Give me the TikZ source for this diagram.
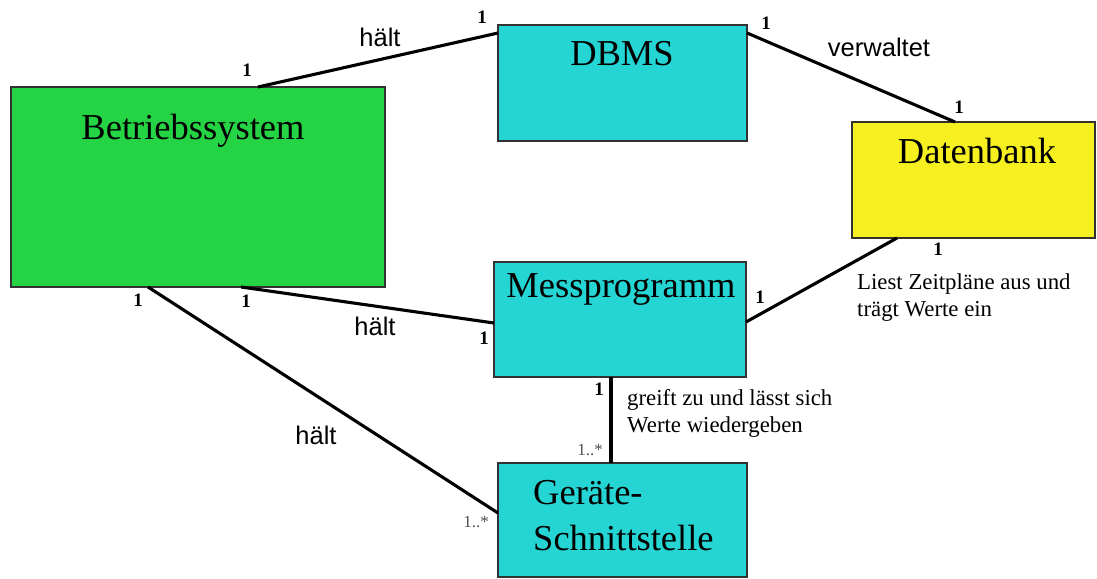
\documentclass[tikz,border=0pt]{standalone}
\usepackage{fontspec}
\setmainfont{Liberation Serif}
\newfontfamily\labelsans{Liberation Sans}
\definecolor{bsgreen}{RGB}{36,212,68}
\definecolor{clscyan}{RGB}{36,213,212}
\definecolor{dbyellow}{RGB}{247,240,32}
\definecolor{boxline}{RGB}{50,50,50}
\definecolor{multgrey}{RGB}{80,80,80}
\tikzset{
  cls/.style={draw=boxline, line width=1.6pt, inner sep=0pt, outer sep=0pt},
  title/.style={font=\fontsize{36.5}{40}\selectfont, inner sep=0pt},
  assoc/.style={line width=3.1pt},
  mult/.style={font=\bfseries\fontsize{19}{20}\selectfont, inner sep=0pt},
  multmany/.style={font=\fontsize{17}{18}\selectfont, text=multgrey, inner sep=0pt},
  role/.style={font=\labelsans\fontsize{25.5}{28}\selectfont, inner sep=0pt},
  note/.style={font=\fontsize{22.8}{27}\selectfont, align=left, anchor=west, inner sep=0pt},
}
\begin{document}
\begin{tikzpicture}[x=1pt, y=-1pt]
\useasboundingbox (0,0) rectangle (1097,578);

% classes
\node[cls, fill=bsgreen,  minimum width=374pt, minimum height=200pt] (bs)   at (198,187)   {};
\node[cls, fill=clscyan,  minimum width=249pt, minimum height=116pt] (dbms) at (622.5,83)  {};
\node[cls, fill=dbyellow, minimum width=243pt, minimum height=116pt] (db)   at (973.5,180) {};
\node[cls, fill=clscyan,  minimum width=252pt, minimum height=115pt] (mp)   at (620,319.5) {};
\node[cls, fill=clscyan,  minimum width=249pt, minimum height=114pt] (gs)   at (622.5,520) {};

% class names
\node[title, anchor=base] (bs-t)   at (193,139) {Betriebssystem};
\node[title, anchor=base] (dbms-t) at (622,66)  {DBMS};
\node[title, anchor=base] (db-t)   at (977,163) {Datenbank};
\node[title, anchor=base] (mp-t)   at (621,297) {Messprogramm};
\node[title, anchor=west, align=left, font=\fontsize{36.5}{46}\selectfont] (gs-t) at (533,516) {Geräte-\\Schnittstelle};

% associations
\draw[assoc] ([xshift=247pt]bs.north west) -- ([yshift=-8pt]dbms.north west);
\draw[assoc] ([yshift=-8pt]dbms.north east) -- ([xshift=103pt]db.north west);
\draw[assoc] ([xshift=45pt]db.south west) -- ([yshift=-60pt]mp.north east);
\draw[assoc] ([xshift=230pt]bs.south west) -- ([yshift=-61pt]mp.north west);
\draw[assoc] ([xshift=137pt]bs.south west) -- ([yshift=-50pt]gs.north west);
\draw[assoc] ([xshift=-9pt]mp.south) -- ([xshift=-11.5pt]gs.north);

% association names
\node[role] (r1) at (380,37)  {hält};
\node[role] (r2) at (879,47)  {verwaltet};
\node[role] (r3) at (375,326) {hält};
\node[role] (r4) at (316,435) {hält};
\node[note] (n1) at (857,298) {Liest Zeitpläne aus und\\trägt Werte ein};
\node[note] (n2) at (627,413) {greift zu und lässt sich\\Werte wiedergeben};

% multiplicities
\node[mult] (m1)  at (247,70)  {1};
\node[mult] (m2)  at (482,17)  {1};
\node[mult] (m3)  at (766,23)  {1};
\node[mult] (m4)  at (959,107) {1};
\node[mult] (m5)  at (938,249) {1};
\node[mult] (m6)  at (760,297) {1};
\node[mult] (m7)  at (138,300) {1};
\node[mult] (m8)  at (246,301) {1};
\node[mult] (m9)  at (484,338) {1};
\node[mult] (m10) at (599,389) {1};
\node[multmany] (m11) at (476,522) {1..*};
\node[multmany] (m12) at (590,450) {1..*};
\end{tikzpicture}
\end{document}
